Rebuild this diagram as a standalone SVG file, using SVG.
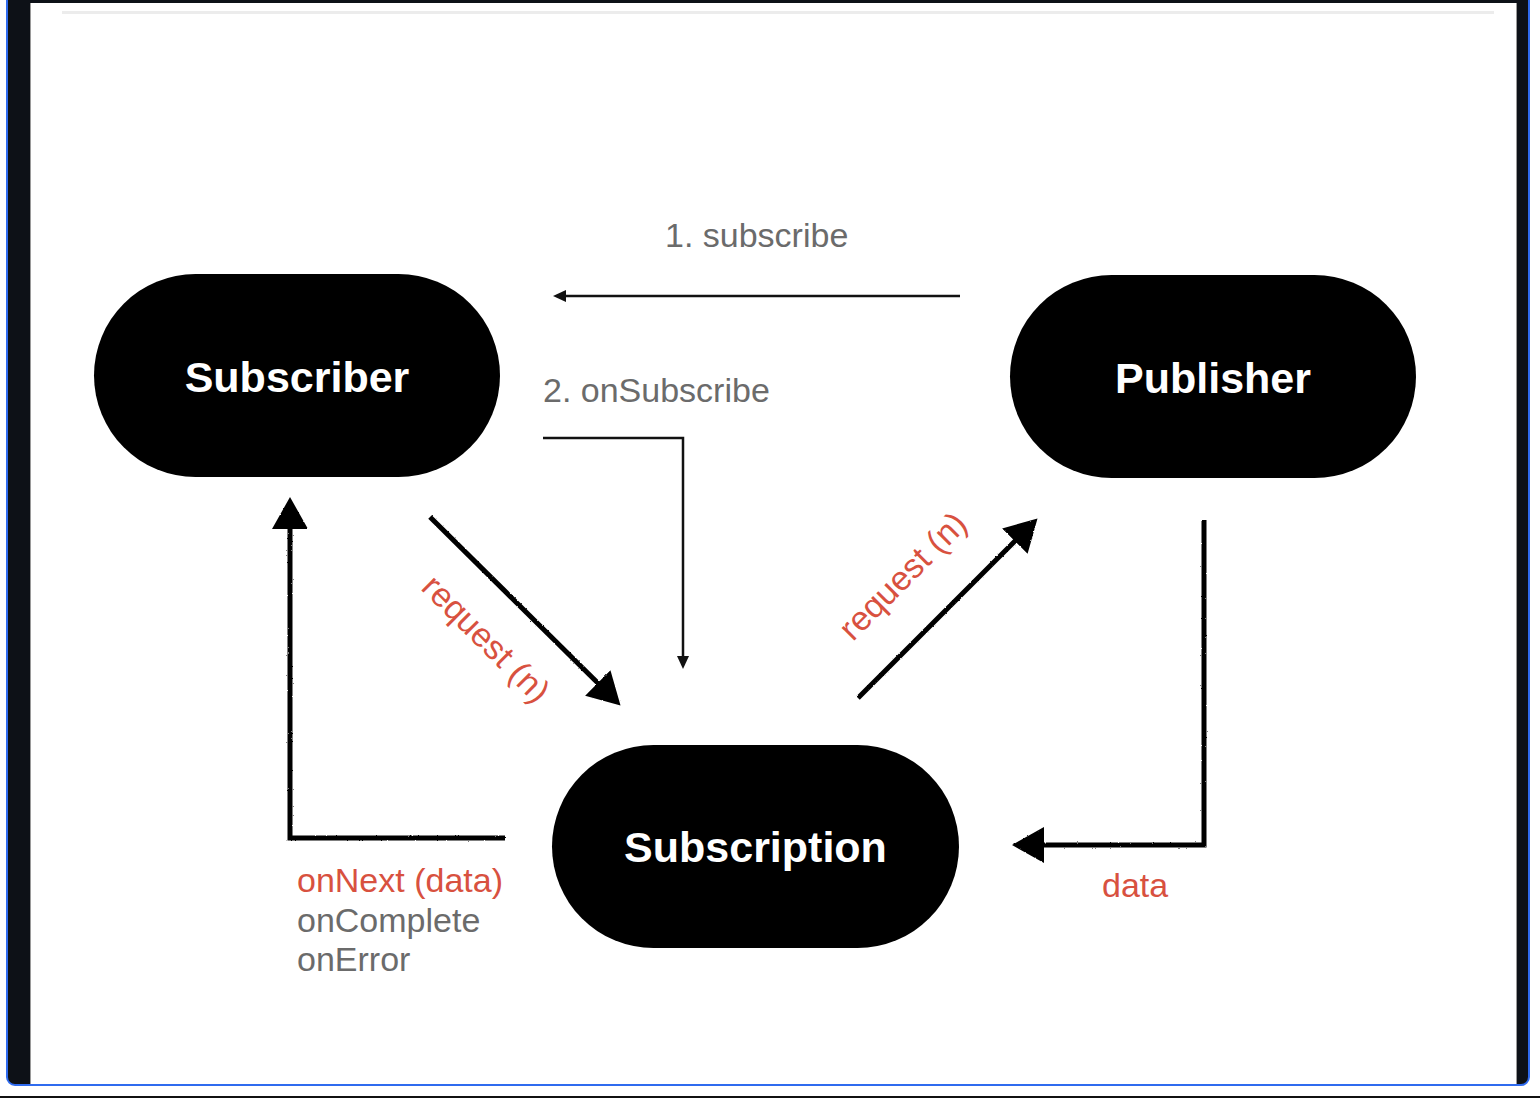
<svg xmlns="http://www.w3.org/2000/svg" width="1540" height="1098" viewBox="0 0 1540 1098">
  <style>
    .node rect { fill: #000; }
    .node text { fill: #fff; font-family: "Liberation Sans", Arial, sans-serif; font-weight: bold; font-size: 43px; text-anchor: middle; }
    .gray { fill: #6b6b6b; font-family: "Liberation Sans", Arial, sans-serif; font-size: 34px; }
    .red { fill: #d8513f; font-family: "Liberation Sans", Arial, sans-serif; font-size: 34px; }
    .thin { stroke: #111; stroke-width: 2.5; fill: none; }
    .thick { stroke: #000; stroke-width: 5; fill: none; stroke-linejoin: miter; filter: url(#rough); }
  </style>
  <defs>
    <filter id="rough" x="-10%" y="-10%" width="120%" height="120%">
      <feTurbulence type="fractalNoise" baseFrequency="0.6" numOctaves="2" seed="3" result="n"/>
      <feDisplacementMap in="SourceGraphic" in2="n" scale="2" xChannelSelector="R" yChannelSelector="G"/>
    </filter>
    <marker id="bigHead" markerUnits="userSpaceOnUse" markerWidth="34" markerHeight="36" refX="20" refY="18" orient="auto">
      <path d="M0,0 L32,18 L0,36 z" fill="#000"/>
    </marker>
    <marker id="smallHead" markerUnits="userSpaceOnUse" markerWidth="14" markerHeight="12" refX="6" refY="6" orient="auto">
      <path d="M0,0 L13,6 L0,12 z" fill="#111"/>
    </marker>
  </defs>

  <!-- frame -->
  <rect x="0" y="0" width="1540" height="1098" fill="#ffffff"/>
  <rect x="7" y="-20" width="1522" height="1105" rx="8" fill="#0d1117" stroke="#2f6bef" stroke-width="2"/>
  <rect x="30" y="3" width="1487" height="1081" fill="#ffffff"/>
  <line x1="30.5" y1="3" x2="30.5" y2="1084" stroke="#9a9a9a" stroke-width="1"/>
  <line x1="1516.5" y1="3" x2="1516.5" y2="1084" stroke="#9a9a9a" stroke-width="1"/>
  <line x1="62" y1="12.5" x2="1494" y2="12.5" stroke="#ececec" stroke-width="3"/>
  <rect x="0" y="1096" width="1540" height="2" fill="#111"/>

  <!-- nodes -->
  <g id="subscriber" class="node">
    <rect x="94" y="274" width="406" height="203" rx="101.5"/>
    <text x="297" y="392">Subscriber</text>
  </g>
  <g id="publisher" class="node">
    <rect x="1010" y="275" width="406" height="203" rx="101.5"/>
    <text x="1213" y="393">Publisher</text>
  </g>
  <g id="subscription" class="node">
    <rect x="552" y="745" width="407" height="203" rx="101.5"/>
    <text x="755.5" y="862">Subscription</text>
  </g>

  <!-- connectors -->
  <g id="connectors">
    <line class="thin" x1="960" y1="296" x2="560" y2="296" marker-end="url(#smallHead)"/>
    <polyline class="thin" points="543,438 683,438 683,662" marker-end="url(#smallHead)"/>
    <line class="thick" x1="430" y1="517" x2="612" y2="697" marker-end="url(#bigHead)"/>
    <line class="thick" x1="858" y1="698" x2="1029" y2="527" marker-end="url(#bigHead)"/>
    <polyline class="thick" points="505,838 290,838 290,509" marker-end="url(#bigHead)"/>
    <polyline class="thick" points="1204,520 1204,845 1024,845" marker-end="url(#bigHead)"/>
  </g>

  <!-- labels -->
  <g id="labels">
    <text class="gray" x="665" y="247">1. subscribe</text>
    <text class="gray" x="543" y="402">2. onSubscribe</text>
    <text class="red" transform="translate(478,647) rotate(45)" text-anchor="middle" font-size="30">request (n)</text>
    <text class="red" transform="translate(911,584) rotate(-45)" text-anchor="middle" font-size="30">request (n)</text>
    <text class="red" x="297" y="892">onNext (data)</text>
    <text class="gray" x="297" y="932">onComplete</text>
    <text class="gray" x="297" y="971">onError</text>
    <text class="red" x="1102" y="897">data</text>
  </g>
</svg>
